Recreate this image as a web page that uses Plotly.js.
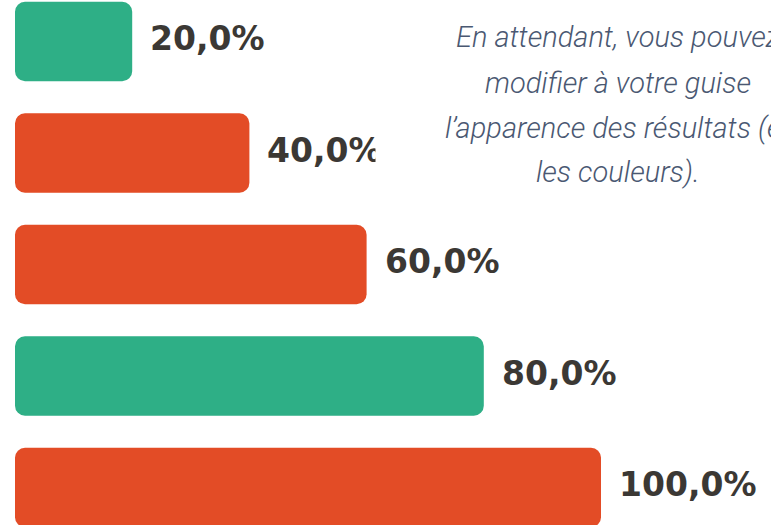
<!DOCTYPE html>
<html>
<head>
<meta charset="utf-8">
<script src="https://cdn.plot.ly/plotly-3.0.1.min.js"></script>
<style>html,body{margin:0;padding:0;background:#fff;}#chart{width:771px;height:525px;}</style>
</head>
<body>
<div id="chart"></div>
<script>
var categories = [0, 1, 2, 3, 4];
var values = [20, 40, 60, 80, 100];
var labels = ['20,0%', '40,0%', '60,0%', '80,0%', '100,0%'];
var barColors = ['#2eaf86', '#e34c26', '#e34c26', '#2eaf86', '#e34c26'];
var noteLines = ['En attendant, vous pouvez', 'modifier à votre guise', 'l’apparence des résultats (et', 'les couleurs).'];

var W = 771, H = 525;

// an explicit base makes Plotly round both ends of each bar
var bases = values.map(function () { return 0; });

var bars = {
  type: 'bar', orientation: 'h',
  y: categories, x: values, base: bases,
  width: 0.713,
  marker: {color: barColors, line: {width: 0}},
  hoverinfo: 'none'
};

var annotations = [];
for (var i = 0; i < values.length; i++) {
  annotations.push({
    x: values[i], y: categories[i], xref: 'x', yref: 'y',
    text: labels[i], showarrow: false,
    xanchor: 'left', yanchor: 'middle', xshift: 16, yshift: 3,
    font: {family: 'DejaVu Sans', size: 33, color: '#3b3834', weight: 'bold'}
  });
}
// white box behind the note
annotations.push({
  xref: 'paper', yref: 'paper', x: 617 / W, y: 1 - 98 / H,
  xanchor: 'center', yanchor: 'middle', showarrow: false,
  text: ' ', width: 482, height: 196, bgcolor: '#ffffff', borderpad: 0,
  font: {size: 10}
});
var lineCenters = [37.5, 82.5, 127.5, 172.5];
for (var j = 0; j < noteLines.length; j++) {
  annotations.push({
    xref: 'paper', yref: 'paper', x: 617.5 / W, y: 1 - lineCenters[j] / H,
    xanchor: 'center', yanchor: 'middle', showarrow: false,
    text: noteLines[j],
    font: {family: 'Roboto', size: 29, color: '#4a5872', style: 'italic', weight: 300}
  });
}

var layout = {
  width: W, height: H,
  margin: {l: 0, r: 0, t: 0, b: 0, pad: 0},
  paper_bgcolor: '#ffffff', plot_bgcolor: '#ffffff',
  showlegend: false,
  barcornerradius: 10,
  xaxis: {range: [-15 / 5.86, (W - 15) / 5.86], visible: false, showgrid: false, zeroline: false, fixedrange: true},
  yaxis: {range: [(H - 41.5) / 111.5, -41.5 / 111.5], visible: false, showgrid: false, zeroline: false, fixedrange: true},
  annotations: annotations
};

Plotly.newPlot('chart', [bars], layout, {displayModeBar: false, staticPlot: true});
</script>
</body>
</html>
